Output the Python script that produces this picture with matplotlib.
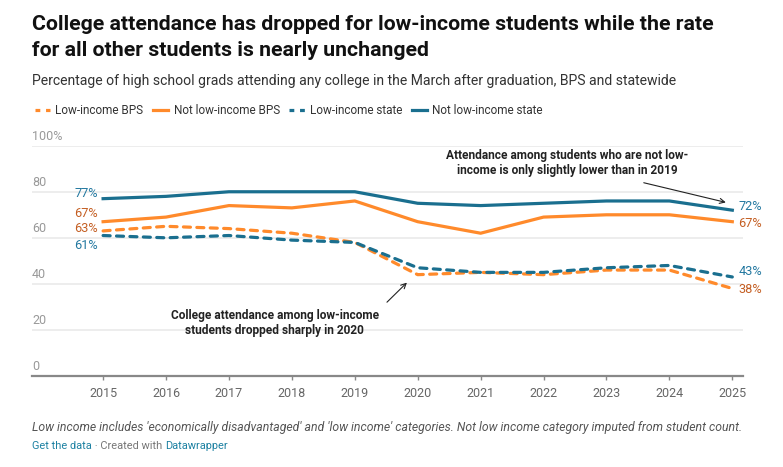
import matplotlib
matplotlib.use("Agg")
import matplotlib.pyplot as plt
from matplotlib.lines import Line2D

plt.rcParams['font.family'] = ['Roboto', 'DejaVu Sans']

years = [2015, 2016, 2017, 2018, 2019, 2020, 2021, 2022, 2023, 2024, 2025]
low_bps = [63, 65, 64, 62, 58, 44, 45, 44, 46, 46, 38]
not_low_bps = [67, 69, 74, 73, 76, 67, 62, 69, 70, 70, 67]
low_state = [61, 60, 61, 59, 58, 47, 45, 45, 47, 48, 43]
not_low_state = [77, 78, 80, 80, 80, 75, 74, 75, 76, 76, 72]
series_names = ["Low-income BPS", "Not low-income BPS", "Low-income state", "Not low-income state"]
y_ticks = [0, 20, 40, 60, 80, 100]
y_tick_labels = ["0", "20", "40", "60", "80", "100%"]

ORANGE = "#ff8a2b"
ORANGE_TXT = "#c45e22"
BLUE = "#1a6f8f"
BLUE_TXT = "#2378a0"

W, H = 783, 467
fig = plt.figure(figsize=(W / 100, H / 100), dpi=100)
fig.patch.set_facecolor("white")

x0, x1 = 32, 743
ybot, ytop = 376, 145.7
ax = fig.add_axes([x0 / W, (H - ybot) / H, (x1 - x0) / W, (ybot - ytop) / H])
ax.set_xlim(2013.87, 2025.17)
ax.set_ylim(0, 100)
for s in ["top", "right", "left"]:
    ax.spines[s].set_visible(False)
ax.spines["bottom"].set_color("#888888")
ax.spines["bottom"].set_linewidth(1.6)
ax.set_yticks([])
ax.set_xticks(years)
ax.set_xticklabels([str(y) for y in years], fontsize=9, color="#666666")
ax.tick_params(axis="x", length=3, width=1, color="#888888", pad=5)

# gridlines and y labels
for v, lab in zip(y_ticks, y_tick_labels):
    if v > 0:
        ax.axhline(v, color="#e8e8e8", lw=1.1, zorder=0)
    ax.annotate(lab, xy=(0, v), xycoords=("axes fraction", "data"),
                xytext=(0, 3), textcoords="offset pixels",
                ha="left", va="bottom", fontsize=9, color="#999999")

lw = 2.3
ax.plot(years, low_bps, color=ORANGE, lw=lw, dashes=(2.2, 2.0), dash_capstyle="round", clip_on=False, zorder=3)
ax.plot(years, not_low_bps, color=ORANGE, lw=lw, clip_on=False, zorder=3)
ax.plot(years, low_state, color=BLUE, lw=lw, dashes=(2.2, 2.0), dash_capstyle="round", clip_on=False, zorder=4)
ax.plot(years, not_low_state, color=BLUE, lw=lw, clip_on=False, zorder=4)

# end labels
def lab(x, y, dy, color, ha):
    dx = -5 if ha == "right" else 6
    ax.annotate(f"{y}%", xy=(x, y), xytext=(dx, dy), textcoords="offset pixels",
                ha=ha, va="center", fontsize=9.2, color=color)

lab(years[0], not_low_state[0], 5, BLUE_TXT, "right")
lab(years[0], not_low_bps[0], 8, ORANGE_TXT, "right")
lab(years[0], low_bps[0], 2, ORANGE_TXT, "right")
lab(years[0], low_state[0], -10, BLUE_TXT, "right")
lab(years[-1], not_low_state[-1], 4, BLUE_TXT, "left")
lab(years[-1], not_low_bps[-1], -2, ORANGE_TXT, "left")
lab(years[-1], low_state[-1], 5, BLUE_TXT, "left")
lab(years[-1], low_bps[-1], -1.5, ORANGE_TXT, "left")

# annotations
ax.text(2022.37, 92.6, "Attendance among students who are not low-\nincome is only slightly lower than in 2019",
        ha="center", va="center", fontsize=8.6, fontweight="bold", color="#222222", linespacing=1.22)
ax.annotate("", xy=(2024.94, 75.1), xytext=(2023.55, 84.2),
            arrowprops=dict(arrowstyle="->", color="#222222", lw=0.8, mutation_scale=9))
ax.text(2017.73, 23.0, "College attendance among low-income\nstudents dropped sharply in 2020",
        ha="center", va="center", fontsize=8.6, fontweight="bold", color="#222222", linespacing=1.22)
ax.annotate("", xy=(2019.86, 41.4), xytext=(2019.48, 31.2),
            arrowprops=dict(arrowstyle="->", color="#222222", lw=0.8, mutation_scale=9))

# titles
fig.text(32 / W, 1 - 25 / H, "College attendance has dropped for low-income students while the rate",
         ha="left", va="center", fontsize=15.3, fontweight="bold", color="#111111")
fig.text(32 / W, 1 - 50 / H, "for all other students is nearly unchanged",
         ha="left", va="center", fontsize=15.3, fontweight="bold", color="#111111")
fig.text(32 / W, 1 - 81 / H, "Percentage of high school grads attending any college in the March after graduation, BPS and statewide",
         ha="left", va="center", fontsize=10.1, color="#333333")

# legend
handles = [
    Line2D([], [], color=ORANGE, lw=2.3, dashes=(1.5, 1.8)),
    Line2D([], [], color=ORANGE, lw=2.3),
    Line2D([], [], color=BLUE, lw=2.3, dashes=(1.5, 1.8)),
    Line2D([], [], color=BLUE, lw=2.3),
]
fig.legend(handles, series_names, loc="center left", bbox_to_anchor=(24 / W, 1 - 111 / H),
           ncol=4, frameon=False, fontsize=8.5, handlelength=1.3, handletextpad=0.45,
           columnspacing=0.8, labelcolor="#333333")

# footer
fig.text(32 / W, 1 - 427 / H,
         "Low income includes 'economically disadvantaged' and 'low income' categories. Not low income category imputed from student count.",
         ha="left", va="center", fontsize=8.8, style="italic", color="#555555")
t1 = fig.text(32 / W, 1 - 446 / H, "Get the data", ha="left", va="center", fontsize=7.9, color="#1d81a2")
fig.canvas.draw()
r = fig.canvas.get_renderer()
bb = t1.get_window_extent(r)
t2 = fig.text(bb.x1 / W, 1 - 446 / H, " · Created with ", ha="left", va="center", fontsize=7.9, color="#777777")
bb2 = t2.get_window_extent(r)
fig.text(bb2.x1 / W, 1 - 446 / H, "Datawrapper", ha="left", va="center", fontsize=7.9, color="#1d81a2")

fig.savefig("out.png", dpi=100, facecolor="white")
